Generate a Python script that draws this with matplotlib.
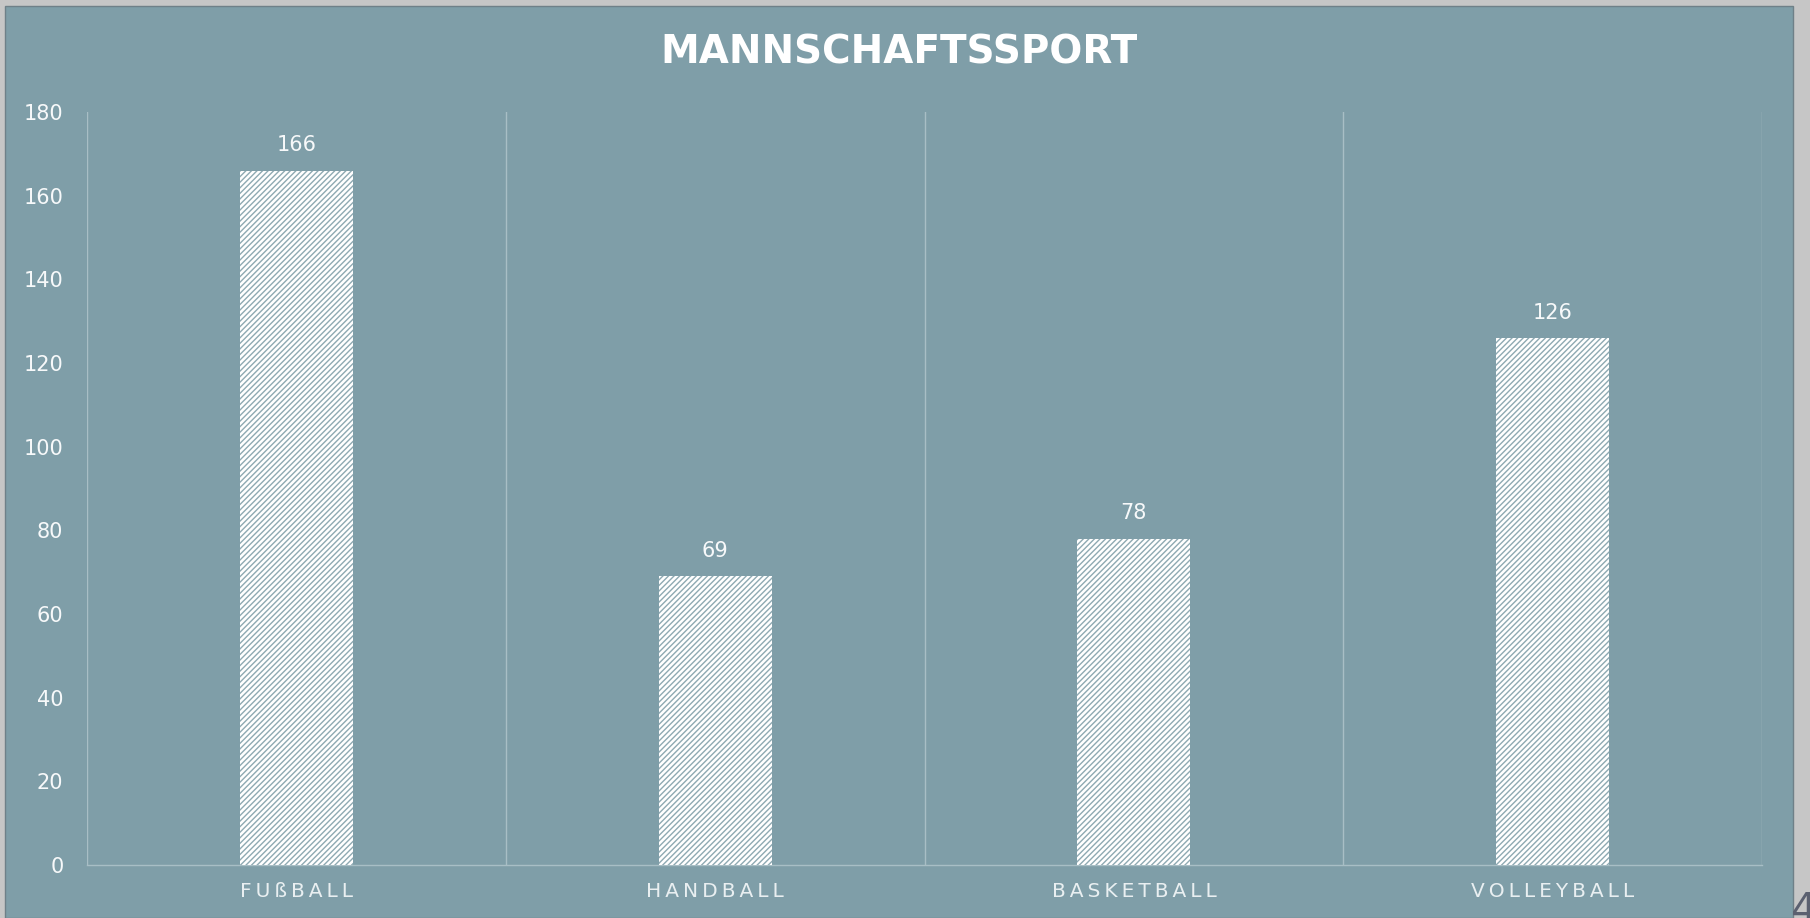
import matplotlib.pyplot as plt
from matplotlib.patches import Rectangle

# data
sports = ['FUßBALL', 'HANDBALL', 'BASKETBALL', 'VOLLEYBALL']
counts = [166, 69, 78, 126]
y_ticks = [0, 20, 40, 60, 80, 100, 120, 140, 160, 180]
title = 'MANNSCHAFTSSPORT'

BG = '#7f9ea8'
PAGE = '#c6c6c6'
GRID = '#a8bec5'
TXT = '#f7f9fa'


def spaced(s, sep='\u2009'):
    # poor man's letter spacing
    return sep.join(s)


fig = plt.figure(figsize=(18.1, 9.18), dpi=100, facecolor=PAGE)
W, H = 1810, 918

# chart area sitting on the grey page
fig.patches.append(Rectangle((5 / W, 0), (1793 - 5) / W, (H - 6) / H,
                             transform=fig.transFigure, facecolor=BG,
                             edgecolor='#6f8088', lw=1.0, zorder=-5))

ax = fig.add_axes([87 / W, (H - 865) / H, (1762 - 87) / W, (865 - 112) / H])
ax.set_facecolor('none')
ax.set_zorder(2)

x = list(range(len(sports)))
plt.rcParams['hatch.linewidth'] = 1.0
bars = ax.bar(x, counts, width=0.27, color='white', edgecolor='#8ea9b2',
              hatch='//////', linewidth=0, zorder=3)

for b, v in zip(bars, counts):
    ax.annotate(str(v), (b.get_x() + b.get_width() / 2, v), xytext=(0, 11),
                textcoords='offset points', ha='center', va='bottom',
                color=TXT, fontsize=15)

ax.set_xlim(-0.5, len(sports) - 0.5)
ax.set_ylim(0, 180)
ax.set_yticks(y_ticks)
ax.set_yticklabels([str(t) for t in y_ticks], color=TXT, fontsize=15)
ax.set_xticks(x)
ax.set_xticklabels([spaced(s) for s in sports], color='#e9eff1', fontsize=14.5)
ax.tick_params(axis='both', length=0)
ax.tick_params(axis='y', pad=17)
ax.tick_params(axis='x', pad=12)

# category separators
for xb in [i - 0.5 for i in range(len(sports) + 1)]:
    ax.axvline(xb, color=GRID, lw=1.0, zorder=1)

for s in ['top', 'right', 'left']:
    ax.spines[s].set_visible(False)
ax.spines['bottom'].set_color(GRID)
ax.spines['bottom'].set_linewidth(1.0)

fig.text(899 / W, 1 - 53 / H, title, ha='center', va='center',
         color='white', fontsize=28, fontweight='bold', family='DejaVu Sans')

# page number peeking in at the corner
fig.text(1791 / W, 1 - 890 / H, '4', ha='left', va='top', color='#5b6070',
         fontsize=30)

fig.savefig('out.png', dpi=100, facecolor=fig.get_facecolor())
